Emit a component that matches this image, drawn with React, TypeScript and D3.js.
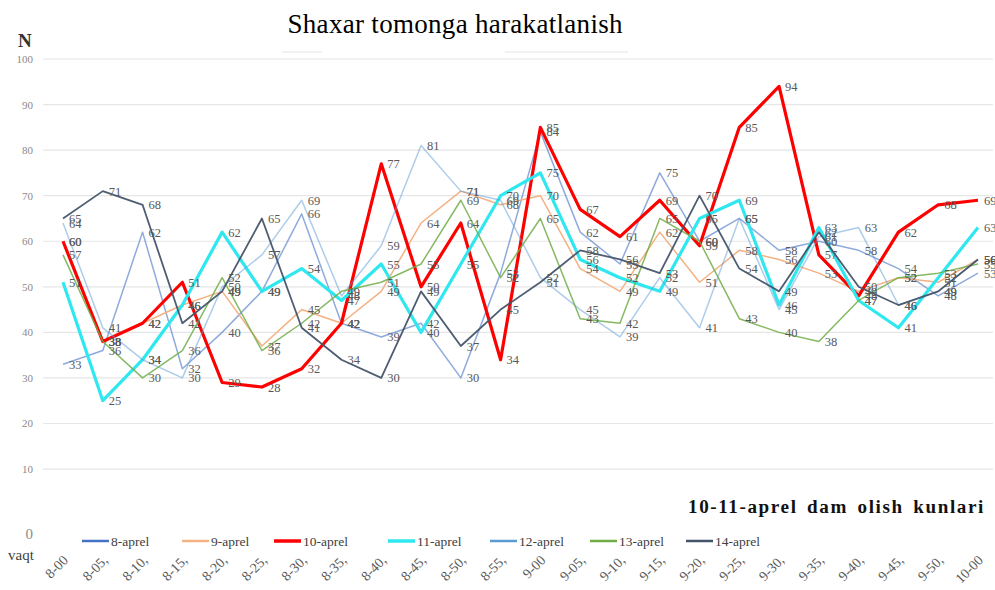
import React from "react";
import * as d3 from "d3";

const categories = [
  "8-00", "8-05,", "8-10,", "8-15,", "8-20,", "8-25,", "8-30,", "8-35,", "8-40,", "8-45,", "8-50,", "8-55,",
  "9-00", "9-05,", "9-10,", "9-15,", "9-20,", "9-25,", "9-30,", "9-35,", "9-40,", "9-45,", "9-50,", "10-00",
];

const seriesNames = ["8-aprel", "9-aprel", "10-aprel", "11-aprel", "12-aprel", "13-aprel", "14-aprel"];

const apr8 = [33, 36, 62, 32, 40, 49, 66, 42, 39, 42, 30, 53, 84, 62, 55, 75, 60, 65, 58, 60, 58, 54, 48, 53];
const apr9 = [60, 38, 42, 46, 49, 37, 45, 42, 49, 64, 71, 68, 70, 54, 49, 62, 51, 58, 56, 53, 49, 52, 51, 56];
const apr10 = [60, 38, 42, 51, 29, 28, 32, 42, 77, 50, 64, 34, 85, 67, 61, 69, 59, 85, 94, 57, 48, 62, 68, 69];
const apr11 = [51, 25, 34, 46, 62, 49, 54, 47, 55, 40, 55, 70, 75, 56, 52, 49, 65, 69, 46, 63, 47, 41, 52, 63];
const apr12 = [64, 41, 34, 30, 50, 57, 69, 48, 59, 81, 71, 69, 52, 45, 39, 52, 41, 65, 45, 61, 63, 46, 49, 56];
const apr13 = [57, 38, 30, 36, 52, 36, 42, 49, 51, 55, 69, 52, 65, 43, 42, 65, 60, 43, 40, 38, 47, 52, 53, 55];
const apr14 = [65, 71, 68, 42, 49, 65, 41, 34, 30, 49, 37, 45, 51, 58, 56, 53, 70, 54, 49, 62, 50, 46, 49, 56];

const seriesValues = [apr8, apr9, apr10, apr11, apr12, apr13, apr14];

const yTicks = [10, 20, 30, 40, 50, 60, 70, 80, 90, 100];

const colors = ["#4472C4", "#F4B183", "#FF0000", "#2FE8EF", "#5B9BD5", "#70AD47", "#44546A"];
const opacities = [0.6, 1, 1, 1, 0.5, 0.85, 0.95];
const widths = [1.5, 1.5, 3.2, 3.2, 1.5, 1.5, 1.8];
const legendX = [82, 182, 274, 388, 490, 590, 686];

const serif = "Liberation Serif, Times New Roman, serif";
const ff = { fontFamily: serif };

export default function App() {
  const x = d3.scalePoint<string>().domain(categories).range([63, 978]);
  const y = d3.scaleLinear().domain([0, 100]).range([514.6, 59]);
  const line = d3
    .line<number>()
    .x((_, i) => x(categories[i]) as number)
    .y((d) => y(d));

  return (
    <svg
      width={995}
      height={590}
      style={{ position: "absolute", left: 0, top: 0, background: "#fff", fontFamily: serif }}
    >
      <rect x={0} y={0} width={995} height={590} fill="#fff" />
      {yTicks.map((t) => (
        <line key={t} x1={43} x2={993} y1={y(t)} y2={y(t)} stroke="#e6e6e6" strokeWidth={1.2} />
      ))}
      <line x1={282} x2={322} y1={52} y2={52} stroke="#e4e4e4" strokeWidth={1} />
      <line x1={505} x2={628} y1={52} y2={52} stroke="#e4e4e4" strokeWidth={1} />
      {yTicks.map((t) => (
        <text key={t} x={33} y={y(t) + 4} fontSize={11} fill="#8a8a8a" textAnchor="end" style={ff}>
          {t}
        </text>
      ))}
      <text x={33} y={y(0) + 24} fontSize={15} fill="#8a8a8a" textAnchor="end" style={ff}>
        0
      </text>
      <text x={18} y={47} fontSize={19} fontWeight="bold" fill="#333" style={ff}>
        N
      </text>
      <text x={455} y={33} fontSize={27} fill="#000" textAnchor="middle" textLength={335} lengthAdjust="spacing" style={ff}>
        Shaxar tomonga harakatlanish
      </text>
      {seriesValues.map((vals, si) => (
        <path
          key={si}
          d={line(vals) || ""}
          fill="none"
          stroke={colors[si]}
          strokeOpacity={opacities[si]}
          strokeWidth={widths[si]}
          strokeLinejoin="round"
        />
      ))}
      {seriesValues.map((vals, si) =>
        vals.map((v, i) => (
          <text
            key={si + "-" + i}
            x={(x(categories[i]) as number) + 6}
            y={y(v) + 4.5}
            fontSize={12.5}
            fill="#595959"
            style={ff}
          >
            {v}
          </text>
        ))
      )}
      <text
        x={688}
        y={513}
        fontSize={18}
        fontWeight="bold"
        fill="#111"
        textLength={297}
        lengthAdjust="spacingAndGlyphs"
        style={{ fontFamily: serif, letterSpacing: "1.5px", wordSpacing: "3px" }}
      >
        10-11-aprel dam olish kunlari
      </text>
      {seriesNames.map((n, si) => (
        <g key={n}>
          <line
            x1={legendX[si]}
            x2={legendX[si] + 27}
            y1={541}
            y2={541}
            stroke={colors[si]}
            strokeWidth={si === 2 || si === 3 ? 3.5 : 2.5}
          />
          <text x={legendX[si] + 29} y={545.5} fontSize={13.5} fill="#404040" style={ff}>
            {n}
          </text>
        </g>
      ))}
      <text x={8} y={560} fontSize={15} fill="#404040" style={ff}>
        vaqt
      </text>
      {categories.map((c) => (
        <text
          key={c}
          transform={`translate(${(x(c) as number) + 6},${561}) rotate(-45)`}
          fontSize={14}
          fill="#595959"
          textAnchor="end"
          style={ff}
        >
          {c}
        </text>
      ))}
    </svg>
  );
}
